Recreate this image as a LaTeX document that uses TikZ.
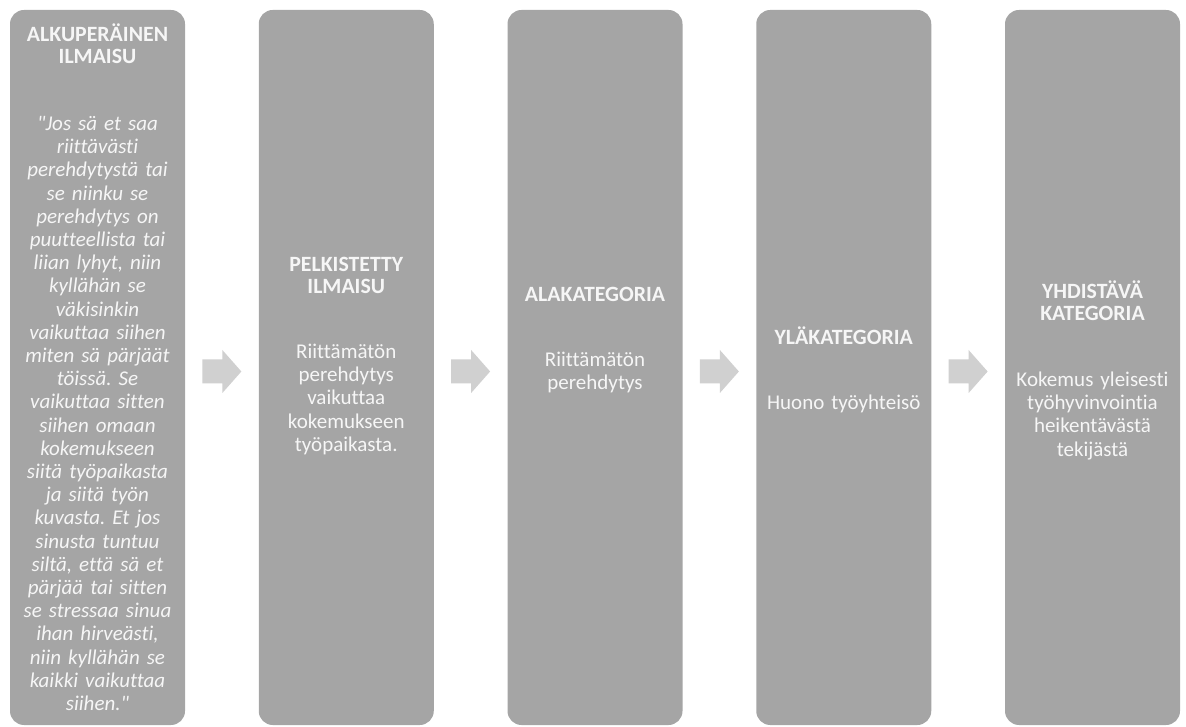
\documentclass[tikz,border=0pt]{standalone}
\usepackage{fontspec}
\setmainfont{Carlito}[Ligatures={TeXOff,NoCommon}]
\usetikzlibrary{positioning,calc}
\definecolor{boxgray}{RGB}{165,165,165}
\definecolor{arrowgray}{RGB}{208,208,208}
\definecolor{textwhite}{RGB}{246,246,246}
\frenchspacing

\begin{document}
\begin{tikzpicture}[x=1pt, y=1pt,
    stage/.style={rectangle, rounded corners=14pt, fill=boxgray,
        minimum width=175pt, minimum height=715pt, inner sep=0pt},
    head/.style={text=textwhite, font=\fontsize{21.8}{22}\selectfont\bfseries,
        text width=175pt, align=center, anchor=base, inner sep=0pt},
    body/.style={text=textwhite, font=\fontsize{21}{23.2}\selectfont,
        text width=175pt, align=center, anchor=base, inner sep=0pt},
    quote/.style={body, font=\fontsize{21}{23.2}\selectfont\itshape},
    blockarr/.style={fill=arrowgray}
]
    \useasboundingbox (0,0) rectangle (1186,726);

    % Stages
    \node[stage] (B1) at (97.5,358.5) {};
    \node[stage] (B2) at (346.25,358.5) {};
    \node[stage] (B3) at (595,358.5) {};
    \node[stage] (B4) at (843.75,358.5) {};
    \node[stage] (B5) at (1092.5,358.5) {};

    % Block arrows between stages
    \coordinate (A12) at ($(B1.east)!0.5!(B2.west)+(0,-4)$);
    \coordinate (A23) at ($(B2.east)!0.5!(B3.west)+(0,-4)$);
    \coordinate (A34) at ($(B3.east)!0.5!(B4.west)+(0,-4)$);
    \coordinate (A45) at ($(B4.east)!0.5!(B5.west)+(0,-4)$);
    \foreach \a in {A12,A23,A34,A45}
        \fill[blockarr] ($(\a)+(-19.5,12)$) -- ++(20,0) -- ++(0,9.5)
            -- ($(\a)+(19.5,0)$) -- ($(\a)+(0.5,-21.5)$) -- ++(0,9.5)
            -- ++(-20,0) -- cycle;

    % Original expression
    \node[head] (T1) at (97.5,684.5) {ALKUPERÄINEN\\ILMAISU};
    \node[quote] (Q1) at (97.5,595.5) {"Jos sä et saa\\riittävästi\\perehdytystä tai\\se niinku se\\perehdytys on\\puutteellista tai\\liian lyhyt, niin\\kyllähän se\\väkisinkin\\vaikuttaa siihen\\miten sä pärjäät\\töissä. Se\\vaikuttaa sitten\\siihen omaan\\kokemukseen\\siitä työpaikasta\\ja siitä työn\\kuvasta. Et jos\\sinusta tuntuu\\siltä, että sä et\\pärjää tai sitten\\se stressaa sinua\\ihan hirveästi,\\niin kyllähän se\\kaikki vaikuttaa\\siihen."};

    % Reduced expression
    \node[head] (T2) at (346.25,454.5) {PELKISTETTY\\ILMAISU};
    \node[body] (D2) at (346.25,367.5) {Riittämätön\\perehdytys\\vaikuttaa\\kokemukseen\\työpaikasta.};

    % Subcategory
    \node[head] (T3) at (595,424.5) {ALAKATEGORIA};
    \node[body] (D3) at (595,359.5) {Riittämätön\\perehdytys};

    % Upper category
    \node[head] (T4) at (843.75,381.5) {YLÄKATEGORIA};
    \node[body] (D4) at (843.75,316.5) {Huono työyhteisö};

    % Combining category
    \node[head] (T5) at (1092.5,427.5) {YHDISTÄVÄ\\KATEGORIA};
    \node[body] (D5) at (1092.5,339.5) {Kokemus yleisesti\\työhyvinvointia\\heikentävästä\\tekijästä};
\end{tikzpicture}
\end{document}
